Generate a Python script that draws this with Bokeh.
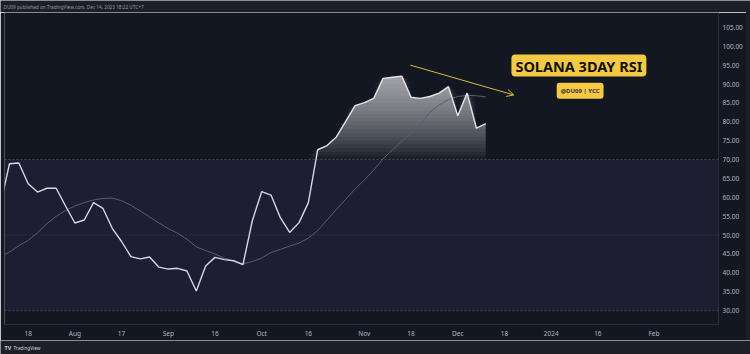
import numpy as np
import pandas as pd
from bokeh.plotting import figure
from bokeh.models import (BoxAnnotation, Span, FixedTicker, NumeralTickFormatter,
                          Label, Arrow, OpenHead, Spacer)
from bokeh.layouts import column, row
from bokeh.core.properties import value
from bokeh.embed import file_html
from bokeh.resources import INLINE

# ---------------- data ----------------
bar_dates = pd.date_range("2023-07-09", periods=53, freq="3D")
rsi = [57.9,
       68.9, 69.1, 63.6, 61.4, 62.4, 62.4, 57.7,
       53.2, 54.0, 58.6, 57.1, 51.8, 48.3, 44.3, 43.7, 44.2, 41.5,
       41.0, 41.2, 40.5, 35.2, 41.8, 44.1, 43.5, 43.2, 42.2, 53.8,
       61.5, 60.6, 54.6, 50.7, 53.3, 58.6, 72.6, 73.7, 76.0, 80.1, 84.3,
       85.1, 86.2, 91.5, 91.8, 92.1, 86.5, 86.2, 86.7, 87.6, 89.3,
       81.6, 87.6, 78.3, 79.5]
rsi_ma = [44.3,
          45.5, 47.2, 48.6, 50.6, 53.0, 55.0, 56.5,
          57.7, 58.6, 59.3, 59.7, 59.8, 59.1, 57.9, 56.4, 54.8, 53.2,
          51.7, 50.5, 48.9, 46.9, 45.9, 45.0, 43.9, 43.1, 42.4, 43.0,
          43.9, 45.4, 46.2, 47.1, 47.9, 49.2, 51.2, 54.0, 56.8, 59.5, 62.2,
          64.6, 67.2, 70.2, 72.6, 74.8, 77.0, 79.3, 82.5, 84.5, 85.9,
          86.7, 87.0, 86.9, 86.6]
tick_dates = ["2023-07-18", "2023-08-02", "2023-08-17", "2023-09-01", "2023-09-16",
              "2023-10-01", "2023-10-16", "2023-11-03", "2023-11-18", "2023-12-03",
              "2023-12-18", "2024-01-02", "2024-01-17", "2024-02-04"]
tick_labels = ["18", "Aug", "17", "Sep", "16", "Oct", "16", "Nov", "18", "Dec",
               "18", "2024", "16", "Feb"]
y_ticks = [30, 35, 40, 45, 50, 55, 60, 65, 70, 75, 80, 85, 90, 95, 100, 105]
band_low, band_mid, band_high = 30, 50, 70

title_text = "SOLANA 3DAY RSI"
sub_text = "@DU09 | YCC"
pub_text = "DU09 published on TradingView.com, Dec 14, 2023 18:22 UTC+7"

# ---------------- helpers ----------------
origin = pd.Timestamp("2023-07-01")
x = np.array((bar_dates - origin).days, dtype=float)
tick_x = [int((pd.Timestamp(d) - origin).days) for d in tick_dates]
rsi_arr = np.array(rsi)

BG = "#131722"
STRIP = "#1c1f2a"
AXIS_TXT = "#b2b5be"
YEL = "#f6c945"
FONT = "Noto Sans"

p = figure(width=746, height=328, x_range=(9.39, 238.75), y_range=(26.32, 108.95),
           y_axis_location="right", output_backend="svg", toolbar_location=None,
           background_fill_color=BG, border_fill_color=BG,
           min_border_left=4, min_border_top=0, min_border_right=28, min_border_bottom=14,
           outline_line_color=None)
p.grid.visible = False

p.add_layout(BoxAnnotation(bottom=band_low, top=band_high, fill_color="#7e57c2",
                           fill_alpha=0.1, line_color=None))
for lvl, a in ((band_high, 0.45), (band_mid, 0.25), (band_low, 0.45)):
    p.add_layout(Span(location=lvl, dimension="width", line_color="#787b86",
                      line_alpha=a, line_width=1, line_dash="2 2"))

# gradient fill above 70
for t in np.arange(70, 93, 1.0):
    p.varea(x=x, y1=t, y2=np.maximum(rsi_arr, t), fill_color="white", fill_alpha=0.042)

p.line(x, rsi_ma, line_color="#5a5d6c", line_width=1)
p.line(x, rsi, line_color="#e4e4e8", line_width=1.4)

# axes
p.xaxis.ticker = FixedTicker(ticks=tick_x)
p.xaxis.major_label_overrides = {k: v for k, v in zip(tick_x, tick_labels)}
p.yaxis.ticker = FixedTicker(ticks=y_ticks)
p.yaxis.formatter = NumeralTickFormatter(format="0.00")
for ax in (p.xaxis[0], p.yaxis[0]):
    ax.axis_line_color = "#2a2e39"
    ax.major_tick_line_color = None
    ax.minor_tick_line_color = None
    ax.major_tick_out = 0
    ax.major_tick_in = 0
    ax.minor_tick_out = 0
    ax.major_label_text_color = AXIS_TXT
    ax.major_label_text_font = FONT
p.xaxis.major_label_text_font_size = "6.5px"
p.xaxis.major_label_standoff = 4
p.yaxis.major_label_text_font_size = "6.5px"
p.yaxis.major_label_standoff = 4

# annotations
p.add_layout(Arrow(x_start=139.8, y_start=95.0, x_end=173.0, y_end=87.1,
                   line_color="#d9bb3c", line_width=1,
                   end=OpenHead(size=7, line_color="#d9bb3c", line_width=1)))
p.add_layout(Label(x=193.9, y=94.9, text=title_text, text_align="center",
                   text_baseline="middle", text_font=FONT, text_font_size="14.5px",
                   text_font_style="bold", text_color="#111111",
                   background_fill_color=YEL, border_radius=4, padding=(4, 1)))
p.add_layout(Label(x=194.3, y=88.2, text=sub_text, text_align="center",
                   text_baseline="middle", text_font=FONT, text_font_size="6px",
                   text_font_style="bold", text_color="#333333",
                   background_fill_color=YEL, border_radius=3, padding=4))

# top strip
top = figure(width=750, height=12, x_range=(0, 750), y_range=(0, 12),
             output_backend="svg", toolbar_location=None,
             x_axis_location=None, y_axis_location=None,
             background_fill_color=STRIP, border_fill_color=STRIP,
             min_border=0, outline_line_color=None)
top.grid.visible = False
top.text(x=[3], y=[6], text=[pub_text], text_font=value(FONT), text_font_size="4.7px",
         text_color="#9598a1", text_baseline="middle")

# bottom strip
bot = figure(width=750, height=14, x_range=(0, 750), y_range=(0, 14),
             output_backend="svg", toolbar_location=None,
             x_axis_location=None, y_axis_location=None,
             background_fill_color=STRIP, border_fill_color=STRIP,
             min_border=0, outline_line_color=None)
bot.grid.visible = False
bot.text(x=[4], y=[7], text=["TV"], text_font=value(FONT), text_font_size="5.5px",
         text_font_style="bold", text_color="#d1d4dc", text_baseline="middle")
bot.text(x=[13], y=[7], text=["TradingView"], text_font=value(FONT), text_font_size="4.7px",
         text_color="#d1d4dc", text_baseline="middle")

right = Spacer(width=4, height=328, styles={"background-color": STRIP})
layout = column(top, row(p, right), bot)

open("out.html", "w").write(file_html(layout, INLINE))
